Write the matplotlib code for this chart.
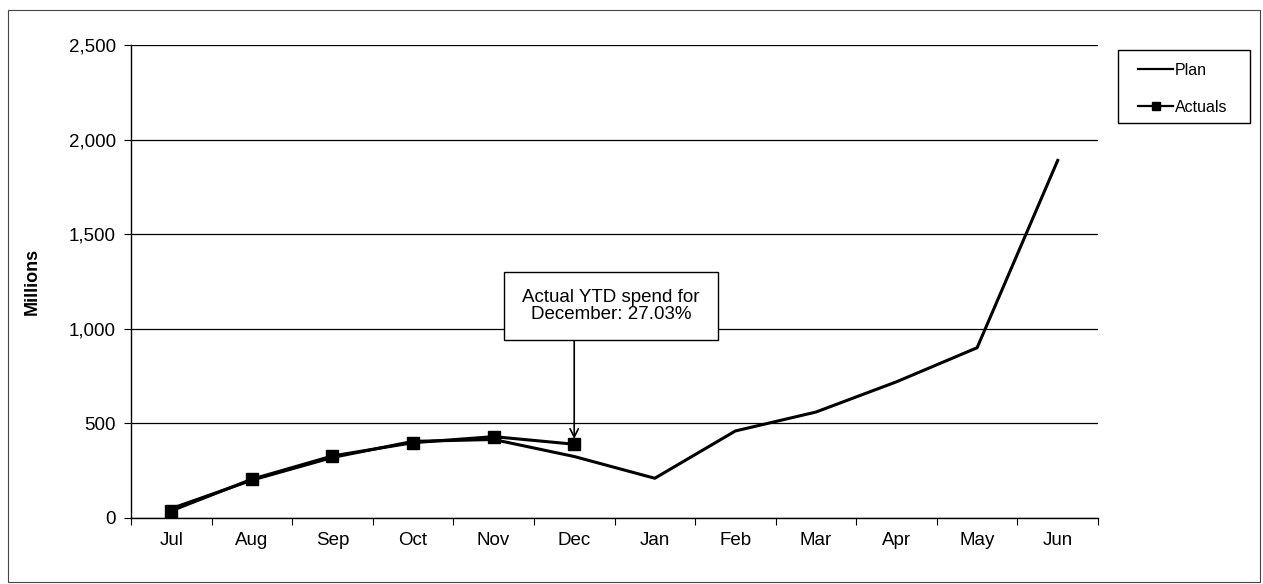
import matplotlib
matplotlib.use("Agg")
import matplotlib.pyplot as plt
from matplotlib.patches import Rectangle

plt.rcParams['font.family'] = ['Liberation Sans', 'DejaVu Sans']

months = ["Jul", "Aug", "Sep", "Oct", "Nov", "Dec", "Jan", "Feb", "Mar", "Apr", "May", "Jun"]
plan = [50, 200, 320, 405, 415, 325, 210, 460, 560, 720, 900, 1890]
actuals = [38, 205, 328, 398, 430, 390]
y_ticks = [0, 500, 1000, 1500, 2000, 2500]
y_tick_labels = ["0", "500", "1,000", "1,500", "2,000", "2,500"]
note_text = "Actual YTD spend for\nDecember: 27.03%"

W, H = 1263, 584
fig = plt.figure(figsize=(W / 100, H / 100), dpi=100)
ax = fig.add_axes([131 / W, 1 - 518 / H, (1098 - 131) / W, (518 - 45) / H])

x = list(range(len(months)))
ax.plot(x, plan, color="black", lw=2.2, label="Plan", solid_joinstyle="round")
ax.plot(x[:len(actuals)], actuals, color="black", lw=2.2, marker="s", ms=8,
        label="Actuals")

ax.set_xlim(-0.5, len(months) - 0.5)
ax.set_ylim(0, 2500)
ax.set_yticks(y_ticks)
ax.set_yticklabels(y_tick_labels)
ax.set_xticks(x)
ax.set_xticklabels(months)
ax.set_xticks([i - 0.5 for i in range(len(months) + 1)], minor=True)
ax.tick_params(axis="x", which="major", length=0, pad=10, labelsize=13.5)
ax.tick_params(axis="x", which="minor", length=5, width=0.8, direction="out")
ax.tick_params(axis="y", length=5, width=0.8, pad=6, labelsize=13.5)

ax.yaxis.grid(True, color="black", lw=0.9)
ax.set_axisbelow(True)
for s in ["top", "right"]:
    ax.spines[s].set_visible(False)
ax.spines["left"].set_linewidth(1.0)
ax.spines["bottom"].set_linewidth(1.0)

ax.set_ylabel("Millions", fontsize=13, fontweight="bold", labelpad=20)

# Callout box, with a vertical arrow down to the December actual
fig.text(611 / W, 1 - 306 / H, note_text, ha="center", va="center",
         fontsize=13.5, linespacing=0.95,
         bbox=dict(boxstyle="square,pad=0.95", fc="white", ec="black", lw=1.0))
dec = months.index("Dec")
ax.annotate("", xy=(dec, actuals[dec] + 28), xycoords="data",
            xytext=(dec, 1 - 340 / H), textcoords=("data", "figure fraction"),
            arrowprops=dict(arrowstyle="->,head_length=0.6,head_width=0.3",
                            color="black", lw=1.2, shrinkA=0, shrinkB=0))

# Legend: frameless entries inside a drawn box
leg = ax.legend(loc="upper left", bbox_to_anchor=(1138 / W, 1 - 63 / H),
                bbox_transform=fig.transFigure, frameon=False,
                fontsize=11.5, handlelength=2.2, handletextpad=0.1,
                labelspacing=1.35, borderpad=0, borderaxespad=0)
for h in leg.legend_handles:
    h.set_linewidth(1.6)
    h.set_markersize(6)
fig.patches.append(Rectangle((1118 / W, 1 - 123 / H), (1250 - 1118) / W, (123 - 50) / H,
                             transform=fig.transFigure, fill=False,
                             ec="black", lw=1.0))

# Chart area border
fig.patches.append(Rectangle((8 / W, 2 / H), (1260 - 8) / W, (574 - 2) / H,
                             transform=fig.transFigure, fill=False,
                             ec="#444444", lw=0.8))

fig.savefig("out.png", dpi=100)
